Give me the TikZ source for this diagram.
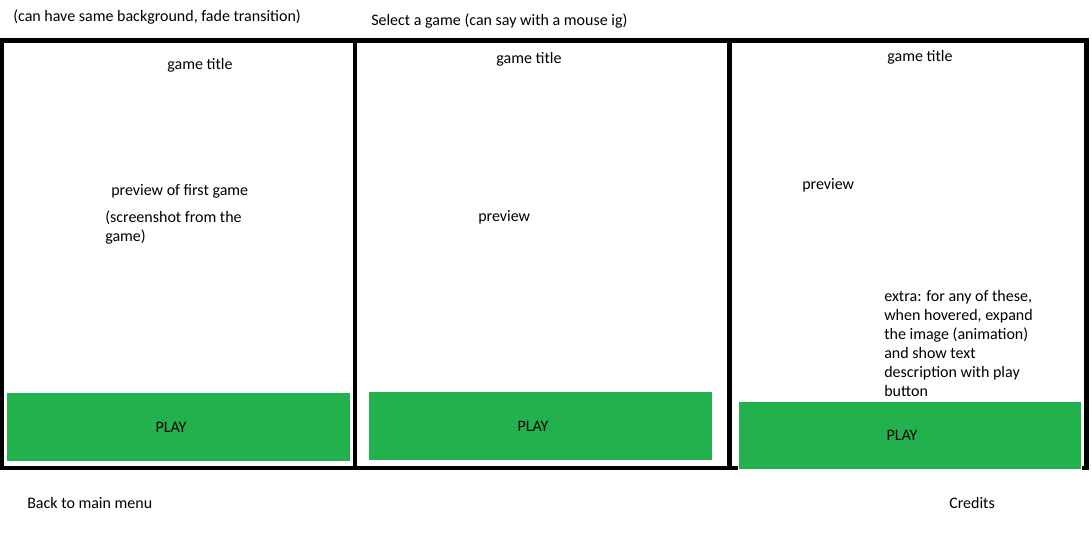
\documentclass[tikz,border=0pt]{standalone}
\usepackage{fontspec}
\setmainfont{Carlito}
\definecolor{paintgreen}{RGB}{34,177,76}
\begin{document}
\begin{tikzpicture}[x=0.75pt,y=-0.75pt,
  frame/.style={draw=black,line width=3.4pt},
  playbtn/.style={fill=paintgreen,draw=none},
  lbl/.style={inner sep=0,font=\fontsize{12pt}{14.25pt}\selectfont,text=black},
  lleft/.style={lbl,anchor=west},
  mleft/.style={lbl,anchor=north west,align=left}]
\useasboundingbox (0,0) rectangle (1092,537);
\fill[white] (0,0) rectangle (1092,537);
% green buttons
\fill[playbtn] (7,393) rectangle (350,461);
\fill[playbtn] (369,392) rectangle (712,460);
% panel frames
\draw[frame] (0,40.5) -- (1089,40.5);
\draw[frame] (0,468) -- (1089,468);
\draw[frame] (2,40.5) -- (2,468);
\draw[frame] (355,40.5) -- (355,468);
\draw[frame] (729.5,40.5) -- (729.5,468);
\draw[frame] (1086.5,40.5) -- (1086.5,468);
\filldraw[playbtn,draw=white,line width=0.75pt] (738,401) rectangle (1081,469);
% top notes
\node[lleft] (note1) at (13,17) {(can have same background, fade transition)};
\node[lleft] (note2) at (371,21) {Select a game (can say with a mouse ig)};
% panel 1
\node[lbl] (t1) at (200,65) {game title};
\node[lleft] (pv1) at (111,191) {preview of first game};
\node[mleft] (ss1) at (105,211) {(screenshot from the\\game)};
\node[lbl] (play1) at (171,427) {PLAY};
% panel 2
\node[lbl] (t2) at (529,59) {game title};
\node[lleft] (pv2) at (478,217) {preview};
\node[lbl] (play2) at (533,426) {PLAY};
% panel 3
\node[lbl] (t3) at (920,57) {game title};
\node[lleft] (pv3) at (802,185) {preview};
\node[mleft] (extra) at (884,290) {extra: for any of these,\\when hovered, expand\\the image (animation)\\and show text\\description with play\\button};
\node[lbl] (play3) at (902,435) {PLAY};
% bottom links
\node[lleft] (back) at (27,503) {Back to main menu};
\node[lleft] (cred) at (949,503) {Credits};
\end{tikzpicture}
\end{document}
